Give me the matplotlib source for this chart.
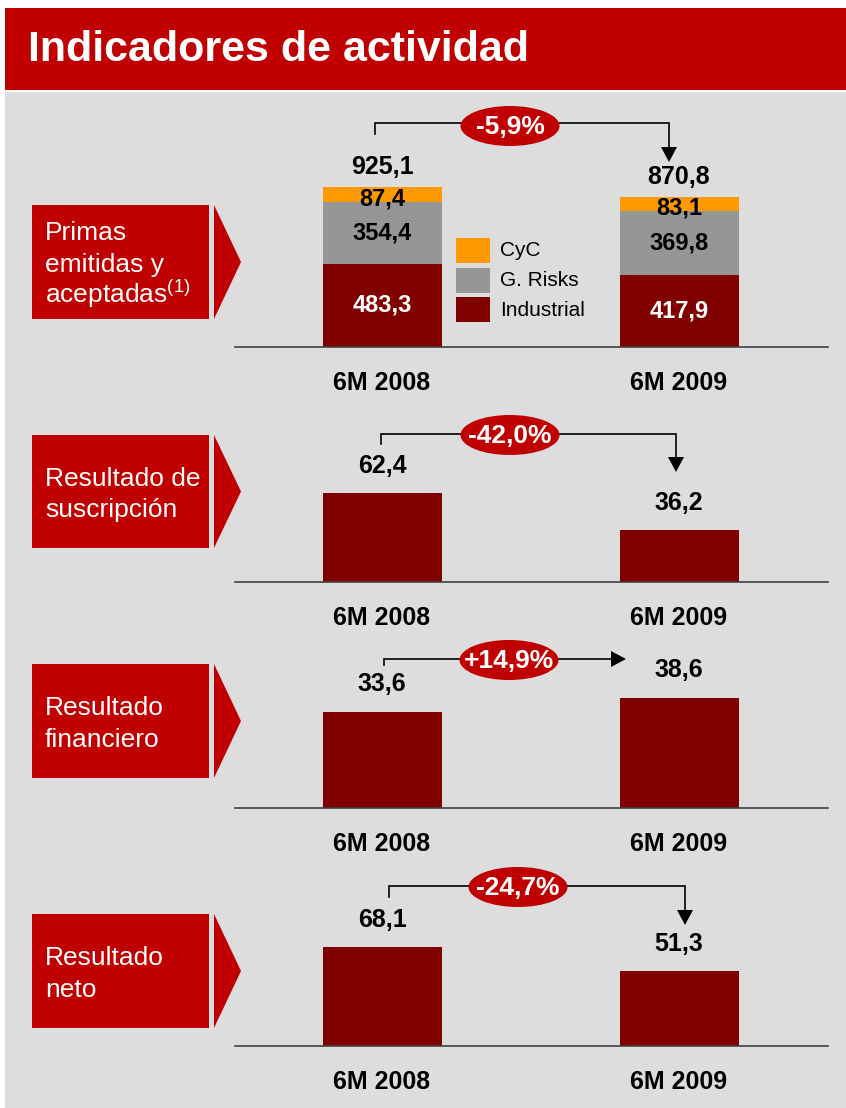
import matplotlib
matplotlib.use("Agg")
import matplotlib.pyplot as plt
from matplotlib.patches import Rectangle, Ellipse, Polygon

plt.rcParams['font.family'] = ['Liberation Sans', 'DejaVu Sans']
plt.rcParams['mathtext.fontset'] = 'custom'
plt.rcParams['mathtext.rm'] = 'Liberation Sans'

# -----------------------
# DONNÉES
# -----------------------
periods = ["6M 2008", "6M 2009"]
segments = ["Industrial", "G. Risks", "CyC"]
primas_industrial = [483.3, 417.9]
primas_grisks = [354.4, 369.8]
primas_cyc = [87.4, 83.1]
primas_total = [925.1, 870.8]
suscripcion = [62.4, 36.2]
financiero = [33.6, 38.6]
neto = [68.1, 51.3]

panel_titles = [
    ["Primas", "emitidas y", "aceptadas$^{(1)}$"],
    ["Resultado de", "suscripción"],
    ["Resultado", "financiero"],
    ["Resultado", "neto"],
]

RED = "#C00000"
DARK = "#800000"
GREY = "#969696"
ORANGE = "#FF9900"
BG = "#DDDDDD"

W, H = 846, 1108


def fmt(v):
    return f"{v:.1f}".replace(".", ",")


def pct(a, b):
    p = (b - a) / a * 100
    return f"{p:+.1f}%".replace(".", ",")


def rect(x0, y0, x1, y1):
    return [x0 / W, 1 - y1 / H, (x1 - x0) / W, (y1 - y0) / H]


fig = plt.figure(figsize=(W / 100, H / 100), dpi=100)
fig.patch.set_facecolor("white")

bg = fig.add_axes([0, 0, 1, 1], zorder=0)
bg.set_xlim(0, W)
bg.set_ylim(H, 0)
bg.axis("off")
bg.add_patch(Rectangle((5, 92), W - 5, H - 92, color=BG, lw=0))
bg.add_patch(Rectangle((5, 8), W - 5, 82, color=RED, lw=0))
bg.text(28, 50, "Indicadores de actividad", color="white", fontsize=31,
        fontweight="bold", va="center", ha="left")

deco = fig.add_axes([0, 0, 1, 1], zorder=3)
deco.set_xlim(0, W)
deco.set_ylim(H, 0)
deco.axis("off")
deco.patch.set_alpha(0)

# -----------------------
# MISE EN PAGE (pixels)
# -----------------------
c0, c1, bw = 382, 679, 119
ax_x0, ax_x1 = 235, 828
xlim = (-(c0 - ax_x0) / (c1 - c0), 1 + (ax_x1 - c1) / (c1 - c0))
width = bw / (c1 - c0)
axh = 180
line_gap = 31.5

# baseline, px par unité, boîte (haut, bas), décalage étiquette, flèche
panels = [
    dict(base=347, scale=0.1725, box=(205, 319), off=20,
         arr=(375, 134, 123, 669, 162, "down"), ell=(510, 126)),
    dict(base=582, scale=1.43, box=(435, 548), off=27,
         arr=(381, 444, 434, 676, 472, "down"), ell=(510, 435)),
    dict(base=808, scale=2.85, box=(664, 778), off=28,
         arr=(384, 665, 659, 626, 659, "right"), ell=(509, 660)),
    dict(base=1046, scale=1.455, box=(914, 1028), off=27,
         arr=(389, 897, 886, 685, 925, "down"), ell=(518, 887)),
]

series = [primas_total, suscripcion, financiero, neto]

for k, p in enumerate(panels):
    base = p["base"]
    ax = fig.add_axes(rect(ax_x0, base - axh, ax_x1, base), zorder=1)
    ax.patch.set_alpha(0)
    ax.set_xlim(*xlim)
    ax.set_ylim(0, axh / p["scale"])
    for s in ["top", "left", "right"]:
        ax.spines[s].set_visible(False)
    ax.spines["bottom"].set_color("#404040")
    ax.spines["bottom"].set_linewidth(1.2)
    ax.set_yticks([])
    ax.set_xticks([0, 1])
    ax.set_xticklabels(periods, fontsize=18, fontweight="bold")
    ax.tick_params(axis="x", length=0, pad=17)

    x = [0, 1]
    if k == 0:
        ax.bar(x, primas_industrial, width, color=DARK, label=segments[0])
        ax.bar(x, primas_grisks, width, bottom=primas_industrial,
               color=GREY, label=segments[1])
        bot3 = [a + b for a, b in zip(primas_industrial, primas_grisks)]
        ax.bar(x, primas_cyc, width, bottom=bot3, color=ORANGE,
               label=segments[2])
        for i in x:
            ax.text(i, primas_industrial[i] / 2, fmt(primas_industrial[i]),
                    ha="center", va="center", color="white", fontsize=17,
                    fontweight="bold")
            ax.text(i, primas_industrial[i] + primas_grisks[i] / 2,
                    fmt(primas_grisks[i]), ha="center", va="center",
                    color="black", fontsize=17, fontweight="bold")
            ax.annotate(fmt(primas_cyc[i]), (i, bot3[i] + primas_cyc[i] / 2),
                        xytext=(0, -3), textcoords="offset points",
                        ha="center", va="center", fontsize=17,
                        fontweight="bold")
        # légende manuelle
        leg_y = [238, 268, 297]
        for (lab, col), yy in zip(zip(segments[::-1], [ORANGE, GREY, DARK]), leg_y):
            deco.add_patch(Rectangle((456, yy), 34, 25, color=col, lw=0))
            deco.text(500, yy + 13, lab, fontsize=15, va="center", ha="left")
    else:
        ax.bar(x, series[k], width, color=DARK)

    vals = series[k]
    for i in x:
        ax.annotate(fmt(vals[i]), (i, vals[i]), xytext=(0, p["off"] * 0.72),
                    textcoords="offset points", ha="center", va="center",
                    fontsize=18, fontweight="bold")

    # boîte rouge + triangle
    t0, t1 = p["box"]
    mid = (t0 + t1) / 2
    deco.add_patch(Rectangle((32, t0), 177, t1 - t0, color=RED, lw=0))
    deco.add_patch(Polygon([(214, t0), (214, t1), (241, mid)],
                           closed=True, color=RED, lw=0))
    lines = panel_titles[k]
    n = len(lines)
    for j, line in enumerate(lines):
        yb = mid + (j - (n - 1) / 2) * line_gap + 10
        deco.text(45, yb, line, color="white", fontsize=19,
                  ha="left", va="baseline")

    # flèche de variation
    xl, ylow, ytop, xr, tip, kind = p["arr"]
    if kind == "down":
        deco.plot([xl, xl, xr, xr], [ylow, ytop, ytop, tip - 14], color="black",
                  lw=1.2, solid_joinstyle="miter")
        deco.add_patch(Polygon([(xr - 8, tip - 15), (xr + 8, tip - 15), (xr, tip)],
                               closed=True, color="black", lw=0))
    else:
        deco.plot([xl, xl, xr - 14], [ylow, ytop, ytop], color="black",
                  lw=1.2, solid_joinstyle="miter")
        deco.add_patch(Polygon([(xr - 15, ytop - 8), (xr - 15, ytop + 8), (xr, ytop)],
                               closed=True, color="black", lw=0))
    ex, ey = p["ell"]
    deco.add_patch(Ellipse((ex, ey), 99, 40, color=RED, lw=0, zorder=4))
    deco.text(ex, ey + 1, pct(vals[0], vals[1]), color="white", fontsize=19,
              fontweight="bold", ha="center", va="center", zorder=5)

fig.savefig("out.png", dpi=100)
